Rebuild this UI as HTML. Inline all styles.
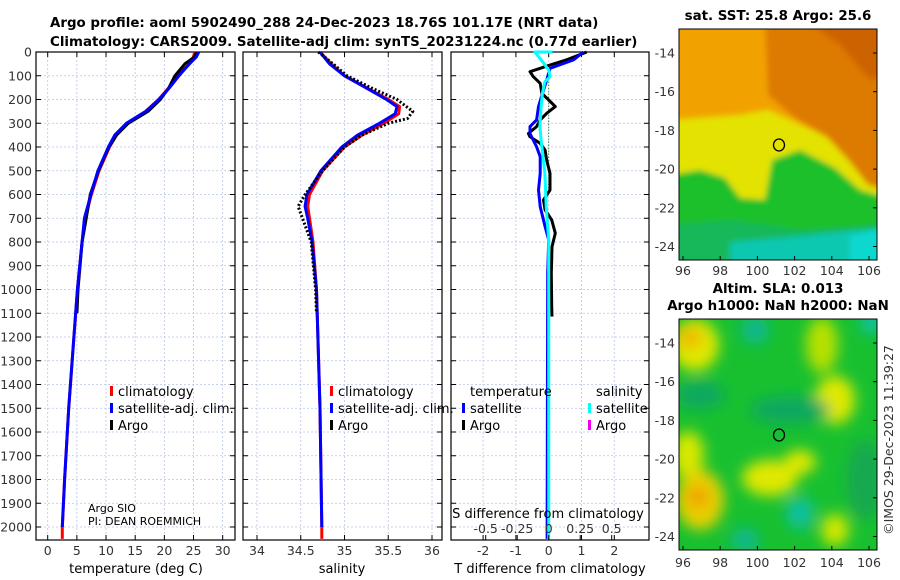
<!DOCTYPE html>
<html><head><meta charset="utf-8"><style>
body{margin:0;background:#fff}
svg{display:block;font-family:"DejaVu Sans","Liberation Sans",sans-serif}
.tk{font-size:12.5px;fill:#333}
.tt{font-size:13.4px;font-weight:bold;fill:#000}
.lg{font-size:13px;fill:#000}
</style></head><body>
<svg id="c" width="900" height="580" viewBox="0 0 900 580">
<defs>
<clipPath id="cm1"><rect x="679" y="29" width="198" height="231"/></clipPath>
<clipPath id="cm2"><rect x="679" y="319" width="198" height="231"/></clipPath>
<filter id="bl" x="-20%" y="-20%" width="140%" height="140%"><feGaussianBlur stdDeviation="3"/></filter>
<filter id="bl2" x="-30%" y="-30%" width="160%" height="160%"><feGaussianBlur stdDeviation="7"/></filter>
</defs>
<text class="tt" x="50" y="27">Argo profile: aoml 5902490_288 24-Dec-2023 18.76S 101.17E (NRT data)</text>
<text class="tt" x="50" y="46">Climatology: CARS2009. Satellite-adj clim: synTS_20231224.nc (0.77d earlier)</text>

<g>
<g clip-path="url(#cm1)">
<g filter="url(#bl)">
<rect x="670" y="20" width="220" height="250" fill="#f2a200"/>
<polygon points="765,20 895,20 895,215 862,195 848,165 825,135 795,118 768,95" fill="#dd7a00"/>
<polygon points="805,20 895,20 895,70 870,80 840,45" fill="#cc6400"/>
<polygon points="670,120 740,115 768,110 795,122 828,138 850,162 868,185 895,192 895,270 670,270" fill="#e4e200"/>
<polygon points="670,175 700,170 725,178 740,198 765,200 772,160 800,150 835,168 860,190 895,200 895,270 670,270" fill="#1ec02a"/>
<polygon points="670,225 730,220 800,230 895,225 895,270 670,270" fill="#12b85a"/>
<polygon points="730,242 800,236 860,230 895,228 895,270 730,270" fill="#10c8b0"/>
<polygon points="850,236 880,229 895,230 895,270 850,270" fill="#10d8d0"/>
</g>
</g>
<rect x="679" y="29" width="198" height="231" fill="none" stroke="#000" stroke-width="1"/>
<ellipse cx="779" cy="145" rx="5.5" ry="6" fill="none" stroke="#000" stroke-width="1.3"/>
<text class="tt" x="778" y="20" text-anchor="middle">sat. SST: 25.8 Argo: 25.6</text>
</g>

<g>
<g clip-path="url(#cm2)">
<rect x="670" y="310" width="220" height="250" fill="#18c030"/>
<g filter="url(#bl2)">
<ellipse cx="695" cy="345" rx="24" ry="26" fill="#e0e800"/>
<ellipse cx="690" cy="338" rx="12" ry="11" fill="#f0b800"/>
<ellipse cx="822" cy="345" rx="16" ry="28" fill="#b8e000"/>
<ellipse cx="835" cy="400" rx="20" ry="24" fill="#e0e800"/>
<ellipse cx="688" cy="455" rx="16" ry="24" fill="#d8e800"/>
<ellipse cx="770" cy="478" rx="28" ry="18" fill="#e0e800"/>
<ellipse cx="800" cy="462" rx="16" ry="12" fill="#e0e800"/>
<ellipse cx="700" cy="500" rx="24" ry="30" fill="#e8d000"/>
<ellipse cx="698" cy="497" rx="11" ry="11" fill="#f0a000"/>
<ellipse cx="835" cy="530" rx="14" ry="16" fill="#d0e800"/>
<ellipse cx="755" cy="330" rx="14" ry="14" fill="#10b890"/>
<ellipse cx="872" cy="322" rx="12" ry="12" fill="#10c0a0"/>
<ellipse cx="800" cy="513" rx="14" ry="16" fill="#10c0a0"/>
<ellipse cx="745" cy="540" rx="14" ry="12" fill="#10b890"/>
<ellipse cx="790" cy="410" rx="40" ry="14" fill="#10a860"/>
<ellipse cx="700" cy="395" rx="25" ry="14" fill="#10a860"/>
<ellipse cx="865" cy="480" rx="18" ry="40" fill="#12a850"/>
</g>
</g>
<rect x="679" y="319" width="198" height="231" fill="none" stroke="#000" stroke-width="1"/>
<ellipse cx="779" cy="435" rx="5.5" ry="6" fill="none" stroke="#000" stroke-width="1.3"/>
<text class="tt" x="778" y="293" text-anchor="middle">Altim. SLA: 0.013</text>
<text class="tt" x="778" y="310" text-anchor="middle">Argo h1000: NaN h2000: NaN</text>
</g>
<text class="tk" transform="translate(893,440) rotate(-90)" text-anchor="middle">©IMOS 29-Dec-2023 11:39:27</text>
<g id="plots"></g>
</svg>
<script>
// ---- data ----
const tDepth=[0,20,50,100,150,200,250,300,350,400,500,600,700,800,1000,1200,1500,1800,2000,2050];
const tClim=[25.2,25,24.3,22.2,20.8,19,16.8,13.6,11.8,10.6,8.8,7.5,6.4,5.9,5.1,4.5,3.6,2.9,2.5,2.5];
const tSat=[25.9,25.5,24.3,22.5,20.9,19.1,16.8,13.5,11.5,10.4,8.6,7.4,6.3,5.9,5.1,4.5,3.6,2.9,2.5,2.5];
const tArgoDepth=[0,20,50,100,150,200,250,300,350,400,500,600,700,800,1000,1100];
const tArgo=[25.5,25.2,23.5,21.8,20.8,19.3,17.2,13.8,11.8,10.5,8.7,7.3,6.6,5.9,5.2,5.0];
const sDepth=[0,50,100,150,200,230,260,300,350,400,500,600,650,700,800,1000,1500,2000,2050];
const sClim=[34.72,34.85,35.0,35.25,35.5,35.63,35.62,35.45,35.2,35.0,34.75,34.6,34.58,34.6,34.64,34.68,34.72,34.74,34.74];
const sSat=[34.72,34.83,35.0,35.24,35.48,35.6,35.58,35.4,35.15,34.97,34.73,34.57,34.55,34.58,34.63,34.68,34.72,34.74,34.74];
const sArgoDepth=[0,50,100,150,200,250,280,300,350,400,500,600,650,700,800,1000,1100];
const sArgo=[34.7,34.87,35.03,35.3,35.6,35.78,35.72,35.5,35.2,35.0,34.75,34.55,34.47,34.52,34.62,34.67,34.68];
const dTArgoDepth=[0,33,55,83,104,132,174,202,230,258,286,314,343,357,385,413,455,511,581,623,665,707,763,820,932,1072,1114];
const dTArgo=[1.16,0.55,0.04,-0.57,-0.47,-0.26,-0.21,0,0.2,-0.06,-0.26,-0.37,-0.62,-0.57,-0.26,-0.11,-0.06,0.04,0.04,-0.16,-0.11,0.09,0.2,0.1,0.08,0.09,0.1];
const dTSatDepth=[0,33,69,118,160,230,286,314,343,399,441,511,581,651,735,791,932,2050];
const dTSat=[1.06,0.76,0.04,-0.06,-0.16,-0.31,-0.37,-0.57,-0.57,-0.37,-0.26,-0.26,-0.31,-0.26,-0.11,0,-0.03,-0.05];
const dSSatDepth=[0,0,33,76,104,125,174,230,314,371,511,651,791,2050];
const dSSat=[0.03,-0.11,-0.06,0,0.01,-0.03,-0.05,-0.06,-0.07,-0.06,-0.03,-0.02,0,0];
const depthTicks=[0,100,200,300,400,500,600,700,800,900,1000,1100,1200,1300,1400,1500,1600,1700,1800,1900,2000];
const tTicks=[0,5,10,15,20,25,30];
const sTicks=[34,34.5,35,35.5,36];
const dTTicks=[-2,-1,0,1,2];
const dSTicks=[-0.5,-0.25,0,0.25,0.5];
const dSTickLabels=["-0.5","-0.25","0","0.25","0.5"];

// ---- scales ----
const Y=d=>52+d*0.2375;
const XT=v=>47.7+v*5.833;
const XS=v=>257+(v-34)*87.5;
const XdT=v=>548.7+v*32.8;
const XdS=v=>548.7+v*126;
const NS='http://www.w3.org/2000/svg';
const root=document.getElementById('plots');
function mk(tag,attrs,parent){const e=document.createElementNS(NS,tag);for(const k in attrs)e.setAttribute(k,attrs[k]);(parent||root).appendChild(e);return e;}
function line(xs,ds,X,col,w,dash,name){
  const p=mk('polyline',{points:xs.map((v,i)=>X(v).toFixed(1)+','+Y(ds[i]).toFixed(1)).join(' '),fill:'none',stroke:col,'stroke-width':w,'stroke-linejoin':'round'});
  if(dash)p.setAttribute('stroke-dasharray',dash);
  
  
}
function panel(x0,x1,ticks,X,labels,name,showDepth){
  const g=mk('g',{});
  
  
  depthTicks.forEach(d=>{
    mk('line',{x1:x0,x2:x1,y1:Y(d),y2:Y(d),stroke:'#b8c4e8','stroke-width':0.8,'stroke-dasharray':'2,2'},g);
    mk('line',{x1:x0,x2:x0+5,y1:Y(d),y2:Y(d),stroke:'#000'},g);
    mk('line',{x1:x1-5,x2:x1,y1:Y(d),y2:Y(d),stroke:'#000'},g);
    if(showDepth){const t=mk('text',{x:x0-4,y:Y(d)+4.5,'text-anchor':'end',class:'tk'},g);t.textContent=d;
      
      }
  });
  ticks.forEach((v,i)=>{
    mk('line',{x1:X(v),x2:X(v),y1:52,y2:540,stroke:'#b8c4e8','stroke-width':0.8,'stroke-dasharray':'2,2'},g);
    mk('line',{x1:X(v),x2:X(v),y1:540,y2:535,stroke:'#000'},g);
    mk('line',{x1:X(v),x2:X(v),y1:52,y2:57,stroke:'#000'},g);
    const t=mk('text',{x:X(v),y:555,'text-anchor':'middle',class:'tk'},g);t.textContent=labels[i];
    
    
  });
  mk('rect',{x:x0,y:52,width:x1-x0,height:488,fill:'none',stroke:'#000','stroke-width':1.2},g);
}
panel(36,235,tTicks,XT,tTicks.map(String),'temperature-panel',true);
panel(243,442,sTicks,XS,sTicks.map(String),'salinity-panel',false);
panel(451,649,dTTicks,XdT,dTTicks.map(String),'difference-panel',false);
[-14,-16,-18,-20,-22,-24].forEach(lat=>{
  [[53,'sst'],[343,'sla']].forEach(([y0,n])=>{
    const y=y0+(-14-lat)*19.35;
    mk('line',{x1:877,x2:873,y1:y,y2:y,stroke:'#000'});
    const t=mk('text',{x:675,y:y+4.5,'text-anchor':'end',class:'tk'});t.textContent=lat;
    
    
  });
});
[96,98,100,102,104,106].forEach(lon=>{
  [[260,275],[550,567]].forEach(([yb,yt],k)=>{
    const x=683+(lon-96)*18.6;
    mk('line',{x1:x,x2:x,y1:yb,y2:yb-4,stroke:'#000'});
    const t=mk('text',{x:x,y:yt,'text-anchor':'middle',class:'tk'});t.textContent=lon;
    
    
  });
});
line(tClim,tDepth,XT,'#f00',3,null,'temperature-climatology-line');
line(tArgo,tArgoDepth,XT,'#000',3,null,'temperature-argo-line');
line(tSat.slice(0,19),tDepth.slice(0,19),XT,'#00f',3,null,'temperature-satellite-line');
line(sClim,sDepth,XS,'#f00',3,null,'salinity-climatology-line');
line(sSat.slice(0,18),sDepth.slice(0,18),XS,'#00f',3,null,'salinity-satellite-line');
line(sArgo,sArgoDepth,XS,'#000',3,'2,2','salinity-argo-line');
mk('line',{x1:XdT(0),x2:XdT(0),y1:Y(100),y2:Y(600),stroke:'#060','stroke-width':1,'stroke-dasharray':'1,2'});
line(dTArgo,dTArgoDepth,XdT,'#000',3,null,'tdiff-argo-line');
line(dTSat,dTSatDepth,XdT,'#00f',3,null,'tdiff-satellite-line');
line(dSSat,dSSatDepth,XdS,'#0ff',3,null,'sdiff-satellite-line');
dSTicks.forEach((v,i)=>{
  mk('line',{x1:XdS(v),x2:XdS(v),y1:540,y2:535,stroke:'#000'});
  const t=mk('text',{x:XdS(v),y:533,'text-anchor':'middle',class:'tk'});t.textContent=dSTickLabels[i];
  
  
});
function txt(x,y,s,name,anchor){const t=mk('text',{x:x,y:y,class:'lg','text-anchor':anchor||'start'});t.textContent=s;
  
  return t;}
function mark(x,y,col,name){const r=mk('rect',{x:x,y:y-10,width:3,height:10,fill:col});
  
  }
txt(136,573,'temperature (deg C)','temperature-axis-title','middle');
txt(342,573,'salinity','salinity-axis-title','middle');
txt(550,573,'T difference from climatology','tdiff-axis-title','middle');
txt(548,518,'S difference from climatology','sdiff-axis-title','middle');
[[110,118,'climatology','#f00'],[110,118,'satellite-adj. clim.','#00f'],[110,118,'Argo','#000']].forEach((e,i)=>{
  mark(e[0],396+i*17,e[3],'legend-marker');txt(e[1],396+i*17,e[2],'legend-entry');
  mark(330,396+i*17,e[3],'legend-marker');txt(338,396+i*17,e[2],'legend-entry');
});
txt(470,396,'temperature','legend-temperature-header');
mark(462,413,'#00f','legend-marker');txt(470,413,'satellite','legend-entry');
mark(462,430,'#000','legend-marker');txt(470,430,'Argo','legend-entry');
txt(596,396,'salinity','legend-salinity-header');
mark(588,413,'#0ff','legend-marker');txt(596,413,'satellite','legend-entry');
mark(588,430,'#e0e','legend-marker');txt(596,430,'Argo','legend-entry');
const a=txt(88,512,'Argo SIO','data-source');a.style.fontSize='11px';
const b=txt(88,525,'PI: DEAN ROEMMICH','pi-name');b.style.fontSize='11px';
</script>
</body></html>
